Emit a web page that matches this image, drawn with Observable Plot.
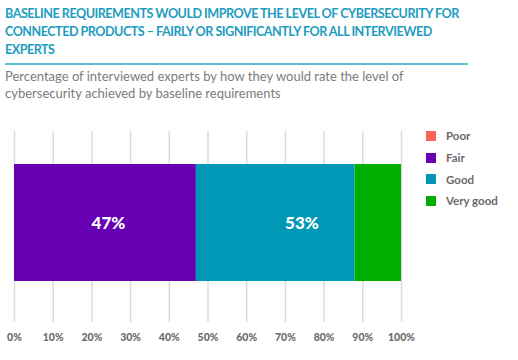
<!DOCTYPE html>
<html>
<head>
<meta charset="utf-8">
<script src="https://cdn.jsdelivr.net/npm/d3@7"></script>
<script src="https://cdn.jsdelivr.net/npm/@observablehq/plot@0.6"></script>
<style>
  html, body { margin: 0; padding: 0; background: #fff; }
  body { width: 518px; height: 360px; position: relative; overflow: hidden; font-family: Lato, "Open Sans", sans-serif; }
  #title { position: absolute; left: 5px; top: 5px; white-space: nowrap; color: #1e9cc0; font-weight: 700; font-size: 12.6px; letter-spacing: -0.5px; line-height: 18px; }
  #rule { position: absolute; left: 5px; top: 63px; width: 463px; height: 2px; background: #5dbfd6; }
  #subtitle { position: absolute; left: 5px; top: 68px; white-space: nowrap; color: #7c7c7c; font-size: 13px; line-height: 17px; }
  #chart { position: absolute; left: 0; top: 105px; }
  #legend { position: absolute; left: 426px; top: 125px; }
  .item { display: flex; align-items: center; height: 21.7px; font-size: 11.5px; color: #6a6a6a; font-weight: 700; }
  .sw { width: 10px; height: 10px; margin-right: 10px; }
</style>
</head>
<body>
<div id="title">BASELINE REQUIREMENTS WOULD IMPROVE THE LEVEL OF CYBERSECURITY FOR<br>CONNECTED PRODUCTS – FAIRLY OR SIGNIFICANTLY FOR ALL INTERVIEWED<br>EXPERTS</div>
<div id="rule"></div>
<div id="subtitle">Percentage of interviewed experts by how they would rate the level of<br>cybersecurity achieved by baseline requirements</div>
<div id="chart"></div>
<div id="legend"></div>
<script>
const categories = ["Poor", "Fair", "Good", "Very good"];
const values = [0, 47, 41, 12];
const colors = ["#fd5f5a", "#6700b2", "#0098b6", "#00ae00"];
const labelTexts = ["47%", "53%"];
const labelStart = [0, 47];
const labelEnd = [47, 100];
const ticks = [0, 10, 20, 30, 40, 50, 60, 70, 80, 90, 100];

const data = categories.map((c, i) => ({category: c, value: values[i], row: "all"}));
const labels = labelTexts.map((t, i) => ({text: t, x: (labelStart[i] + labelEnd[i]) / 2, row: "all"}));

const chart = Plot.plot({
  width: 518,
  height: 255,
  marginLeft: 14,
  marginRight: 117,
  marginTop: 26,
  marginBottom: 38,
  style: {fontFamily: "Lato, 'Open Sans', sans-serif", background: "transparent"},
  x: {domain: [0, 100], ticks: ticks, tickFormat: d => d + "%", label: null},
  y: {domain: ["all"], axis: null, padding: 0},
  color: {domain: categories, range: colors},
  marks: [
    Plot.ruleX(ticks, {x: d => d, stroke: "#dcdcdc", strokeWidth: 1.5}),
    Plot.barX(data, Plot.stackX({x: "value", y: "row", fill: "category", order: categories, insetTop: 33, insetBottom: 41})),
    Plot.text(labels, {x: "x", y: "row", text: "text", fill: "white", fontSize: 17, fontWeight: 900, dx: 3, dy: -3}),
    Plot.axisX({ticks: ticks, tickFormat: d => d + "%", tickSize: 0, tickPadding: 11, fontSize: 10.5, fontWeight: 900, fill: "#6b6b6b", label: null})
  ]
});
document.getElementById("chart").appendChild(chart);

const legend = document.getElementById("legend");
categories.forEach((c, i) => {
  const item = document.createElement("div");
  item.className = "item";
  const sw = document.createElement("div");
  sw.className = "sw";
  sw.style.background = colors[i];
  const t = document.createElement("span");
  t.textContent = c;
  item.appendChild(sw);
  item.appendChild(t);
  legend.appendChild(item);
});
</script>
</body>
</html>
